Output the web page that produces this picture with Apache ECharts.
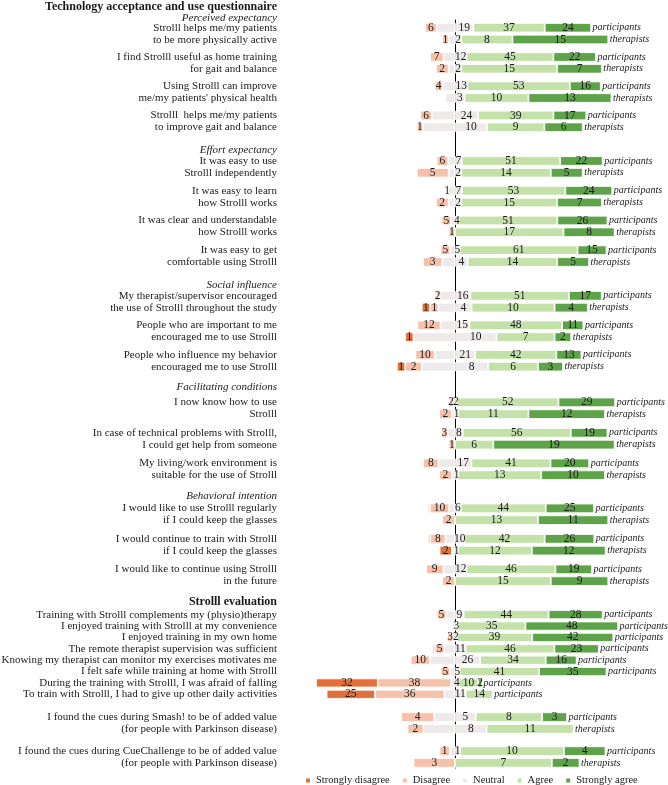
<!DOCTYPE html>
<html><head><meta charset="utf-8">
<script src="https://cdn.jsdelivr.net/npm/echarts@6/dist/echarts.min.js"></script>
<style>html,body{margin:0;padding:0;background:#fff}#c{width:668px;height:785px}</style>
</head><body><div id="c"></div>
<script>
// ---------- DATA (counts: [Strongly disagree, Disagree, Neutral, Agree, Strongly agree]) ----------
const levels = ['Strongly disagree','Disagree','Neutral','Agree','Strongly agree'];
const groupNames = ['participants','therapists'];

const perceivedQuestions = [
  'Strolll helps me/my patients\nto be more physically active',
  'I find Strolll useful as home training\nfor gait and balance',
  'Using Strolll can improve\nme/my patients\' physical health',
  'Strolll  helps me/my patients\nto improve gait and balance'
];
const perceivedParticipants = [[0,6,19,37,24],[0,7,12,45,22],[0,4,13,53,16],[0,6,24,39,17]];
const perceivedTherapists   = [[0,1,2,8,15],[0,2,2,15,7],[0,0,3,10,13],[0,1,10,9,6]];

const effortQuestions = [
  'It was easy to use\nStrolll independently',
  'It was easy to learn\nhow Strolll works',
  'It was clear and understandable\nhow Strolll works',
  'It was easy to get\ncomfortable using Strolll'
];
const effortParticipants = [[0,6,7,51,22],[0,1,7,53,24],[0,5,4,51,26],[0,5,5,61,15]];
const effortTherapists   = [[0,5,2,14,5],[0,2,2,15,7],[0,1,0,17,8],[0,3,4,14,5]];

const socialQuestions = [
  'My therapist/supervisor encouraged\nthe use of Strolll throughout the study',
  'People who are important to me\nencouraged me to use Strolll',
  'People who influence my behavior\nencouraged me to use Strolll'
];
const socialParticipants = [[0,2,16,51,17],[0,12,15,48,11],[0,10,21,42,13]];
const socialTherapists   = [[1,1,4,10,4],[1,0,10,7,2],[1,2,8,6,3]];

const facilitatingQuestions = [
  'I now know how to use\nStrolll',
  'In case of technical problems with Strolll,\nI could get help from someone',
  'My living/work environment is\nsuitable for the use of Strolll'
];
const facilitatingParticipants = [[0,2,2,52,29],[0,3,8,56,19],[0,8,17,41,20]];
const facilitatingTherapists   = [[0,2,1,11,12],[0,1,0,6,19],[0,2,1,13,10]];

const intentionQuestions = [
  'I would like to use Strolll regularly\nif I could keep the glasses',
  'I would continue to train with Strolll\nif I could keep the glasses',
  'I would like to continue using Strolll\nin the future'
];
const intentionParticipants = [[1,10,6,44,25],[1,8,10,42,26],[0,9,12,46,19]];
const intentionTherapists   = [[0,2,0,13,11],[2,0,1,12,12],[0,2,0,15,9]];

const evaluationQuestions = [
  'Training with Strolll complements my (physio)therapy',
  'I enjoyed training with Strolll at my convenience',
  'I enjoyed training in my own home',
  'The remote therapist supervision was sufficient',
  'Knowing my therapist can monitor my exercises motivates me',
  'I felt safe while training at home with Strolll',
  'During the training with Strolll, I was afraid of falling',
  'To train with Strolll, I had to give up other daily activities'
];
const evaluationParticipants = [[0,5,9,44,28],[0,0,3,35,48],[0,3,2,39,42],[1,5,11,46,23],[0,10,26,34,16],[0,5,5,41,35],[32,38,4,10,2],[25,36,11,14,0]];

const cueQuestions = [
  'I found the cues during Smash! to be of added value\n(for people with Parkinson disease)',
  'I found the cues during CueChallenge to be of added value\n(for people with Parkinson disease)'
];
const cueParticipants = [[0,4,5,8,3],[0,1,1,10,4]];
const cueTherapists   = [[0,2,8,11,0],[0,3,0,7,2]];

const sectionHeadings = ['Perceived expectancy','Effort expectancy','Social influence','Facilitating conditions','Behavioral intention'];
const mainTitle = 'Technology acceptance and use questionnaire';
const evalTitle = 'Strolll evaluation';

// ---------- STYLE / LAYOUT ----------
const FONT = '"Liberation Serif", "Times New Roman", serif';
const colors = {'Strongly disagree':'#E2703A','Disagree':'#F5C1AA','Neutral':'#EEEAEA','Agree':'#C3E1A9','Strongly agree':'#5EA249'};
const TEXT = '#1a1a1a';
const GL = 289, GW = 332, LABEL_RIGHT = 277;

const sections = [
  {q: perceivedQuestions,    groups: [perceivedParticipants, perceivedTherapists],       top: 19,  height: 117, pair: true},
  {q: effortQuestions,       groups: [effortParticipants, effortTherapists],             top: 152, height: 119, pair: true},
  {q: socialQuestions,       groups: [socialParticipants, socialTherapists],             top: 287, height: 88.5, pair: true},
  {q: facilitatingQuestions, groups: [facilitatingParticipants, facilitatingTherapists], top: 393, height: 91.5, pair: true},
  {q: intentionQuestions,    groups: [intentionParticipants, intentionTherapists],       top: 499, height: 91.5, pair: true},
  {q: evaluationQuestions,   groups: [evaluationParticipants],                           top: 609, height: 91,   pair: false},
  {q: cueQuestions,          groups: [cueParticipants, cueTherapists],                   top: 706, height: 68,   pair: true}
];
const headingY = [18, 150, 285, 387, 496];

// ---------- BUILD ----------
const grids = [{left: GL, width: GW, top: 20, height: 748, outerBoundsMode: 'none', containLabel: false}];
const xAxes = [{gridIndex: 0, type: 'value', min: -100, max: 100, axisLine:{show:false}, axisTick:{show:false}, axisLabel:{show:false}, splitLine:{show:false}}];
const yAxes = [{gridIndex: 0, type: 'category', data: [''], axisLine:{show:true, onZero:true, lineStyle:{color:'#000', width:1}}, axisTick:{show:false}, axisLabel:{show:false}}];
const series = [];

function toPct(row){ const t = row.reduce((a,b)=>a+b,0); return row.map(v => v / t * 100); }

sections.forEach((sec, si) => {
  const gi = si + 1;
  const bw = sec.pair ? 9.5 : 9;
  grids.push({left: GL, width: GW, top: sec.top, height: sec.height, outerBoundsMode: 'none', containLabel: false});
  xAxes.push({gridIndex: gi, type: 'value', min: -100, max: 100, show: false});
  yAxes.push({gridIndex: gi, type: 'category', inverse: true, data: sec.q,
    axisLine:{show:false}, axisTick:{show:false},
    axisLabel:{interval:0, margin: GL - LABEL_RIGHT, fontFamily: FONT, fontSize: 11, lineHeight: 12, color: TEXT, align:'right'}});
  sec.groups.forEach((rows, g) => {
    const stack = 's' + si + '_' + g;
    const pcts = rows.map(toPct);
    // segment order: neutral-left, disagree, strongly disagree, neutral-right, agree, strongly agree
    const segs = [
      {lvl: 2, sign: -1, half: true, label: false},
      {lvl: 1, sign: -1, half: false, label: true},
      {lvl: 0, sign: -1, half: false, label: true},
      {lvl: 2, sign: 1, half: true, label: true},
      {lvl: 3, sign: 1, half: false, label: true},
      {lvl: 4, sign: 1, half: false, label: true}
    ];
    segs.forEach(sg => {
      const name = levels[sg.lvl];
      series.push({
        type: 'bar', name, stack, xAxisIndex: gi, yAxisIndex: gi,
        barWidth: bw, barGap: '24%',
        itemStyle: {color: colors[name], borderColor: '#fff', borderWidth: 0.8},
        label: {show: sg.label, position: 'inside', fontFamily: FONT, fontSize: 11.5, color: TEXT,
          formatter: p => (p.data.n ? String(p.data.n) : '')},
        data: rows.map((r, i) => {
          const v = pcts[i][sg.lvl] * (sg.half ? 0.5 : 1) * sg.sign;
          const item = {value: v, n: r[sg.lvl]};
          if (sg.lvl === 0 && pcts[i][0] < 2) item.label = {show: false};
          return item;
        })
      });
    });
    series.push({
      type: 'bar', name: 'group', stack, xAxisIndex: gi, yAxisIndex: gi,
      barWidth: bw, barGap: '24%',
      itemStyle: {color: 'rgba(0,0,0,0)'},
      label: {show: true, position: 'right', distance: 1.5, fontFamily: FONT, fontSize: 10, fontStyle: 'italic', color: TEXT,
        formatter: () => groupNames[g]},
      data: rows.map(() => 0.01)
    });
  });
});

const graphics = [
  {type:'text', x: LABEL_RIGHT, y: 7, style:{text: mainTitle, align:'right', verticalAlign:'middle', font:'bold 12px ' + FONT, fill: TEXT}},
  {type:'text', x: LABEL_RIGHT, y: 602, style:{text: evalTitle, align:'right', verticalAlign:'middle', font:'bold 12px ' + FONT, fill: TEXT}}
];
sectionHeadings.forEach((h, i) => graphics.push({type:'text', x: LABEL_RIGHT, y: headingY[i],
  style:{text: h, align:'right', verticalAlign:'middle', font:'italic 11px ' + FONT, fill: TEXT}}));

const chart = echarts.init(document.getElementById('c'), null, {renderer: 'canvas'});
chart.setOption({
  animation: false,
  backgroundColor: '#fff',
  grid: grids, xAxis: xAxes, yAxis: yAxes, series,
  graphic: graphics,
  legend: {data: levels, top: 770, left: 299, icon: 'rect', itemWidth: 6, itemHeight: 6, itemGap: 11,
    textStyle: {fontFamily: FONT, fontSize: 10.5, color: TEXT}, selectedMode: false}
});
</script></body></html>
